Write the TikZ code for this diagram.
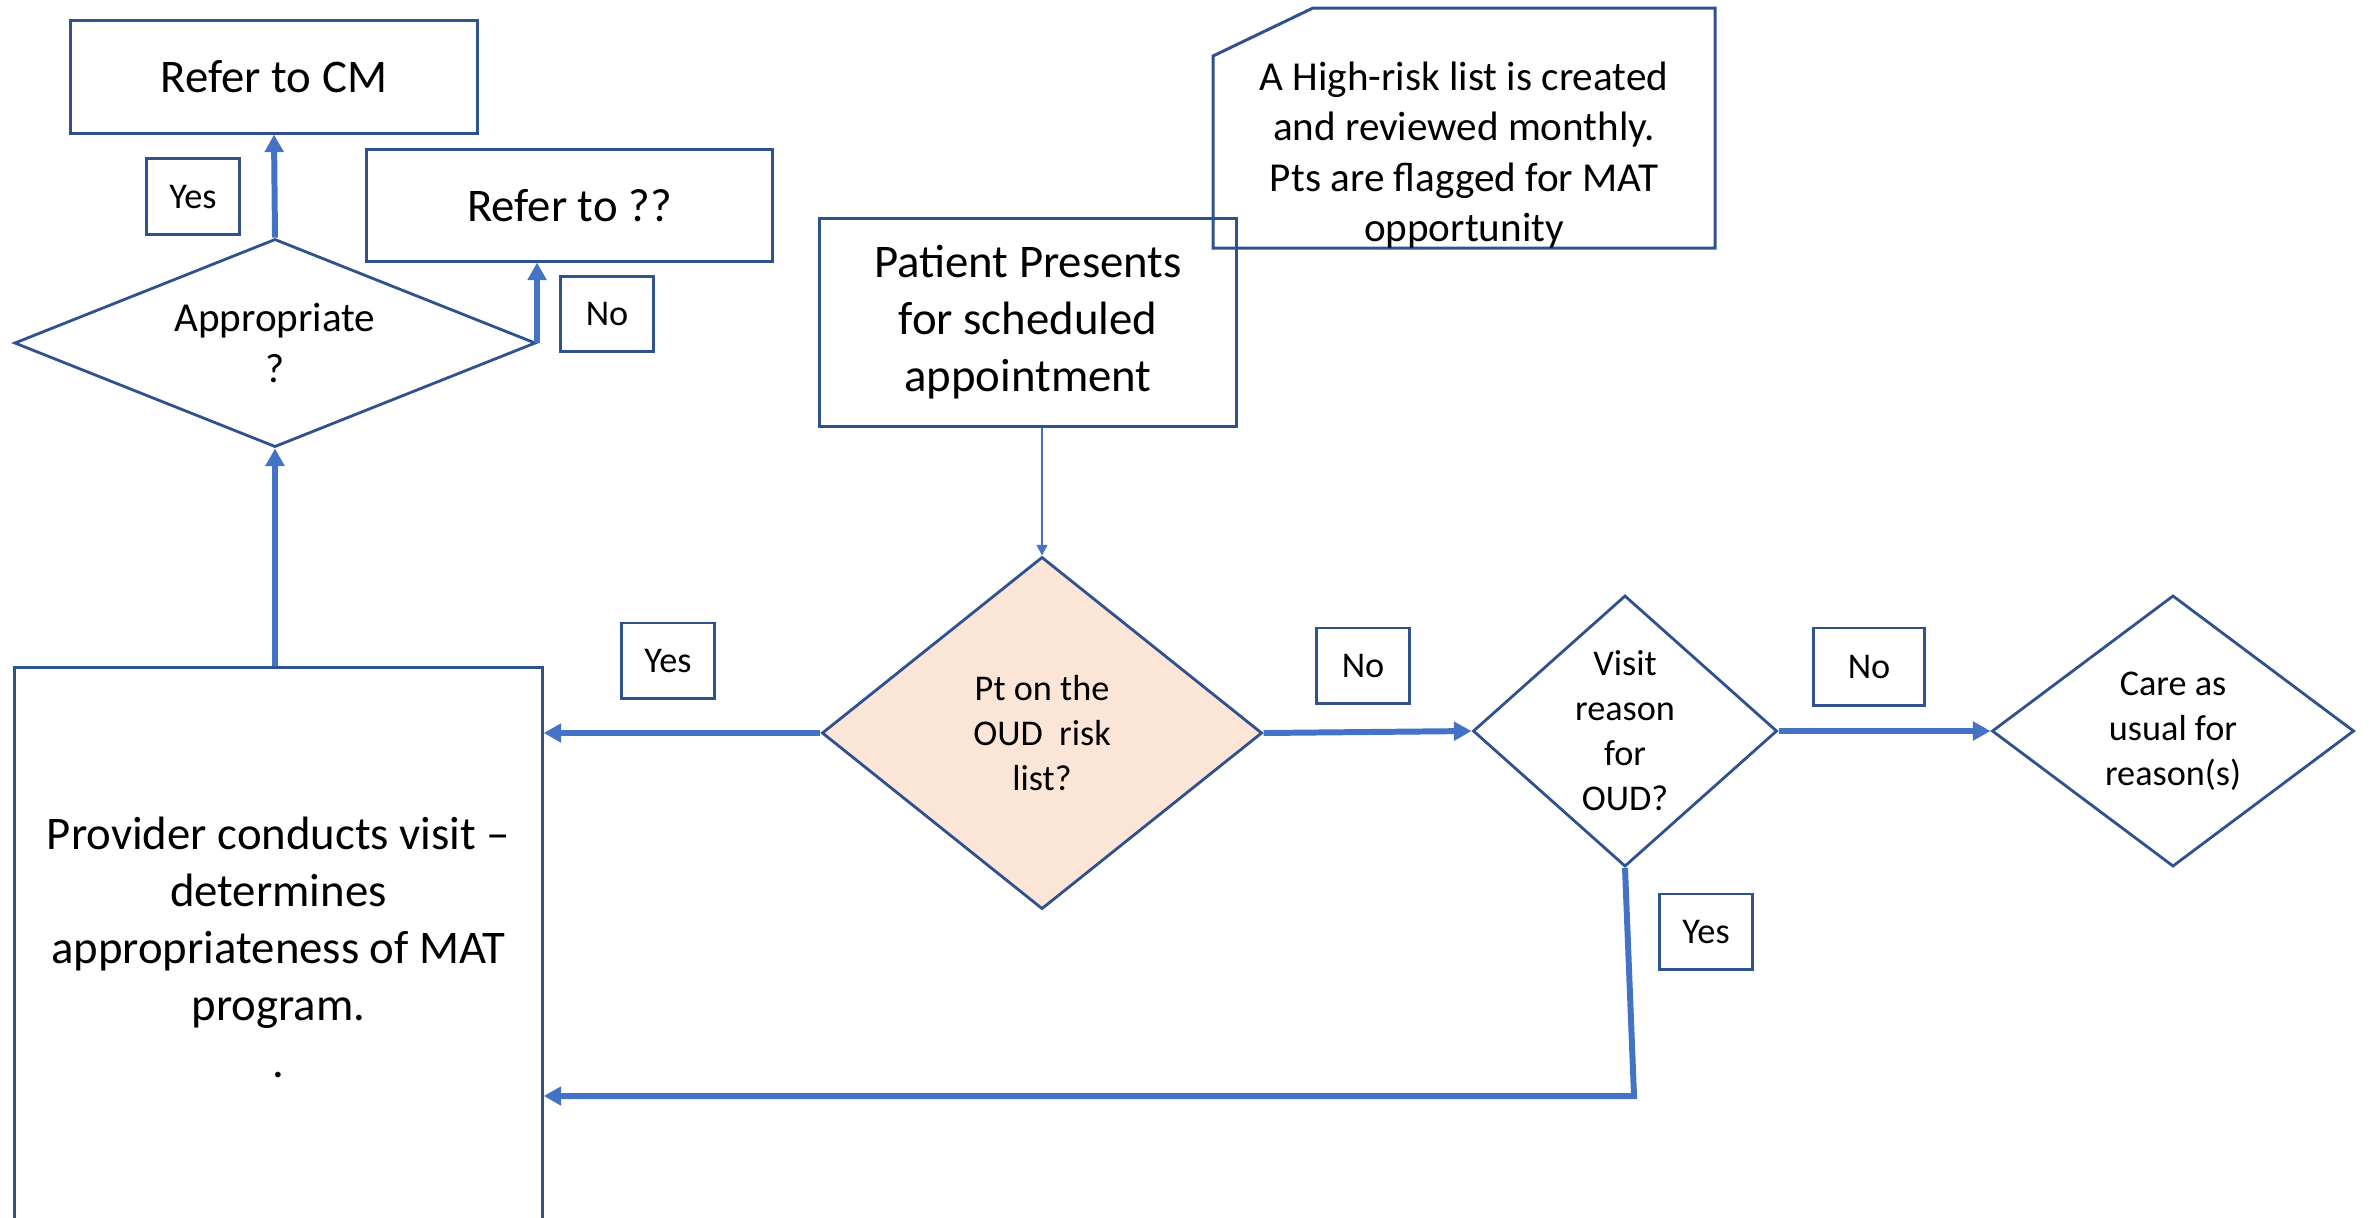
\documentclass[tikz,border=0pt]{standalone}
\usepackage{fontspec}
\setmainfont{Carlito}
\usepackage{tikz}
\usepackage{xcolor}
\usetikzlibrary{arrows.meta, positioning, shapes.geometric}

\definecolor{edgeblue}{HTML}{2F528F}
\definecolor{arrowblue}{HTML}{4472C4}
\definecolor{peach}{HTML}{FBE5D6}

\begin{document}
\begin{tikzpicture}[x=0.01cm, y=-0.01cm,
    procbox/.style={draw=edgeblue, line width=0.85pt, inner sep=0pt, align=center},
    decision/.style={diamond, draw=edgeblue, line width=0.8pt, inner sep=0pt, align=center},
    answer/.style={draw=edgeblue, line width=0.85pt, inner sep=0pt, minimum width=0.93cm, minimum height=0.75cm},
    flowline/.style={draw=arrowblue, line width=1.7pt, -{Triangle[length=5pt, width=5.2pt]}},
    thinline/.style={draw=arrowblue, line width=0.6pt, -{Triangle[length=3pt, width=3pt]}},
    bigtext/.style={font=\fontsize{13.3}{16.2}\selectfont},
    midtext/.style={font=\fontsize{11.7}{14.4}\selectfont},
    smalltext/.style={font=\fontsize{10.3}{12.8}\selectfont}]
    \useasboundingbox (0,0) rectangle (2369,1217);
    \clip (0,0) rectangle (2369,1217);

    % Referral boxes
    \node[procbox, bigtext, minimum width=4.06cm, minimum height=1.12cm] (cm) at (274,77) {Refer to CM};
    \node[procbox, bigtext, minimum width=4.05cm, minimum height=1.11cm] (other) at (569.5,205.5) {Refer to ??};

    % Appropriate? decision
    \node[decision, midtext, minimum width=5.21cm, minimum height=2.08cm, aspect=2.5] (approp) at (275,343) {Appropriate\\?};

    % High-risk list note
    \draw[draw=edgeblue, line width=0.85pt] (1213,56) -- (1313,8) -- (1715,8) -- (1715,248) -- (1213,248) -- cycle;
    \node[midtext, align=center, inner sep=0pt] (note) at (1464,155) {A High-risk list is created\\and reviewed monthly.\\Pts are flagged for MAT\\opportunity};

    % Start of the visit
    \node[procbox, bigtext, minimum width=4.16cm, minimum height=2.07cm] (patient) at (1028,322.5) {Patient Presents\\for scheduled\\appointment};

    % Main decisions
    \node[decision, smalltext, fill=peach, minimum width=4.40cm, minimum height=3.52cm, aspect=1.25] (pt) at (1042,733) {Pt on the\\OUD\ \ risk\\list?};
    \node[decision, smalltext, minimum width=3.04cm, minimum height=2.71cm, aspect=1.12] (visit) at (1625,731) {Visit\\reason\\for\\OUD?};
    \node[decision, smalltext, minimum width=3.62cm, minimum height=2.71cm, aspect=1.34] (care) at (2173,731) {Care as\\usual for\\reason(s)};

    % Provider visit
    \node[procbox, bigtext, minimum width=5.27cm, minimum height=5.58cm] (prov) at (278.5,947) {Provider conducts visit --\\determines\\appropriateness of MAT\\program.\\.};

    % Yes / No tags
    \node[answer, smalltext] (yesa) at (193,196.5) {Yes};
    \node[answer, smalltext] (noa) at (607,314) {No};
    \node[answer, smalltext] (yesb) at (668,660.5) {Yes};
    \node[answer, smalltext] (nob) at (1363,665.5) {No};
    \node[answer, smalltext, minimum width=1.10cm, minimum height=0.77cm] (noc) at (1869,666.5) {No};
    \node[answer, smalltext] (yesc) at (1706,931.5) {Yes};

    % Connectors
    \coordinate (bend) at (1634,1096);
    \draw[thinline] (pt.north |- patient.south) -- (pt.north);
    \draw[flowline] (pt.west) -- (pt.west -| prov.east);
    \draw[flowline] (pt.east) -- (visit.west);
    \draw[flowline] (visit.east) -- (care.west);
    \draw[flowline] (visit.south) -- (bend) -- (bend -| prov.east);
    \draw[flowline] (approp.south |- prov.north) -- (approp.south);
    \draw[flowline] (approp.north) -- (cm.south);
    \draw[flowline] (approp.east) -- (approp.east |- other.south);
\end{tikzpicture}
\end{document}
